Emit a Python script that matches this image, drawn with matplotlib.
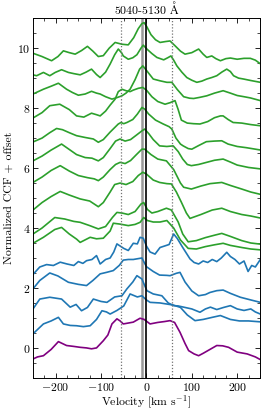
import matplotlib
matplotlib.use('Agg')
import matplotlib.pyplot as plt
from matplotlib.ticker import MultipleLocator

plt.rcParams['font.family'] = ['cmr10', 'DejaVu Serif']
plt.rcParams['mathtext.fontset'] = 'cm'
plt.rcParams['axes.formatter.use_mathtext'] = True
plt.rcParams['font.size'] = 8.5

# CCF curves (velocity in km/s, normalized CCF + offset), top to bottom
v_g1 = [-250, -230, -209, -195, -183, -170, -157, -143, -130, -118, -106, -95, -82, -69, -54, -40, -28, -18, -10, -5, 1, 10, 20, 30, 42, 52, 63, 75, 85, 100, 115, 125, 133, 144, 153, 163, 175, 185, 200, 215, 229, 240, 250]
y_g1 = [9.83, 9.72, 9.58, 9.72, 9.91, 9.85, 9.8, 9.92, 10.06, 9.9, 9.72, 9.75, 10.0, 10.19, 10.13, 10.11, 10.35, 10.65, 10.82, 10.85, 10.71, 10.45, 10.28, 10.19, 10.22, 10.24, 10.08, 9.9, 9.8, 9.85, 9.97, 9.8, 9.69, 9.74, 9.65, 9.58, 9.65, 9.67, 9.63, 9.66, 9.66, 9.6, 9.49]

v_g2 = [-250, -242, -227, -213, -201, -187, -172, -160, -146, -133, -121, -110, -102, -90, -80, -70, -62, -55, -51, -40, -30, -21, -12, -7, 1, 12, 23, 38, 47, 54, 60, 67, 78, 89, 100, 111, 122, 133, 144, 155, 166, 177, 185, 192, 203, 214, 230, 251]
y_g2 = [9.11, 9.08, 9.19, 9.08, 9.19, 9.28, 9.19, 9.15, 9.11, 9.2, 9.3, 9.12, 9.02, 9.2, 9.47, 9.78, 9.97, 9.85, 9.74, 9.63, 9.68, 9.78, 10.0, 10.1, 9.97, 9.82, 9.69, 9.61, 9.68, 9.74, 9.6, 9.41, 9.2, 9.02, 8.93, 8.86, 8.9, 8.97, 9.02, 9.08, 9.2, 9.3, 9.22, 9.08, 9.0, 8.97, 8.92, 8.86]

v_g3 = [-250, -227, -210, -194, -176, -163, -150, -135, -121, -110, -102, -90, -76, -65, -54, -45, -36, -25, -15, -8, 1, 15, 30, 45, 56, 68, 82, 95, 104, 118, 133, 150, 169, 185, 200, 215, 229, 251]
y_g3 = [8.47, 8.63, 8.73, 8.83, 8.63, 8.52, 8.43, 8.47, 8.56, 8.5, 8.47, 8.38, 8.3, 8.35, 8.41, 8.5, 8.63, 8.95, 9.3, 9.41, 9.24, 8.97, 8.91, 8.86, 8.86, 8.62, 8.38, 8.33, 8.32, 8.36, 8.41, 8.5, 8.58, 8.5, 8.42, 8.38, 8.34, 8.25]

v_g4 = [-250, -230, -213, -191, -170, -154, -138, -121, -110, -102, -90, -80, -69, -62, -54, -45, -36, -29, -18, -8, 0, 12, 25, 41, 52, 63, 70, 77, 90, 104, 118, 135, 150, 163, 169, 180, 191, 210, 230, 252]
y_g4 = [7.67, 7.85, 8.08, 8.13, 7.95, 7.74, 7.7, 7.83, 7.78, 7.74, 7.9, 8.1, 8.3, 8.55, 8.63, 8.58, 8.55, 8.6, 8.66, 8.69, 8.6, 8.38, 8.22, 8.13, 8.18, 8.25, 7.95, 7.6, 7.5, 7.48, 7.47, 7.55, 7.68, 7.74, 7.74, 7.62, 7.52, 7.5, 7.45, 7.41]

v_g5 = [-250, -230, -213, -198, -185, -170, -154, -135, -117, -106, -95, -80, -70, -62, -56, -50, -43, -30, -20, -10, -4, 5, 20, 37, 50, 56, 65, 75, 81, 92, 100, 115, 132, 150, 166, 180, 200, 220, 252]
y_g5 = [6.87, 7.0, 7.18, 7.32, 7.28, 7.18, 7.08, 7.02, 6.97, 6.86, 6.95, 7.2, 7.35, 7.47, 7.52, 7.48, 7.52, 7.62, 7.8, 8.02, 7.97, 7.8, 7.6, 7.47, 7.38, 7.3, 7.0, 6.8, 6.74, 6.65, 6.63, 6.75, 6.88, 6.9, 6.91, 6.8, 6.72, 6.68, 6.6]

v_g6 = [-250, -230, -210, -187, -170, -154, -135, -120, -106, -95, -80, -68, -58, -47, -35, -22, -10, -4, 5, 15, 29, 45, 59, 70, 80, 90, 99, 115, 135, 150, 169, 185, 200, 225, 252]
y_g6 = [6.24, 6.4, 6.6, 6.8, 6.62, 6.45, 6.35, 6.33, 6.24, 6.35, 6.65, 6.9, 6.97, 6.9, 6.95, 7.1, 7.24, 7.3, 7.15, 6.95, 6.74, 6.72, 6.74, 6.55, 6.3, 6.12, 6.08, 6.12, 6.2, 6.26, 6.3, 6.2, 6.1, 6.02, 5.97]

v_g7 = [-250, -230, -210, -190, -170, -150, -130, -115, -106, -95, -80, -68, -58, -47, -35, -22, -10, -4, 10, 25, 44, 60, 75, 82, 99, 120, 140, 166, 185, 210, 230, 252]
y_g7 = [5.52, 5.7, 5.92, 6.08, 5.9, 5.75, 5.68, 5.64, 5.58, 5.7, 5.95, 6.12, 6.19, 6.15, 6.25, 6.45, 6.63, 6.63, 6.45, 6.3, 6.24, 5.95, 5.5, 5.36, 5.3, 5.4, 5.48, 5.52, 5.42, 5.3, 5.2, 5.12]

v_g8 = [-250, -230, -210, -190, -170, -146, -125, -106, -95, -80, -70, -58, -45, -30, -18, -8, 0, 15, 29, 45, 55, 66, 77, 88, 96, 120, 145, 166, 185, 210, 230, 252]
y_g8 = [4.6, 4.85, 5.05, 5.22, 5.1, 4.97, 4.9, 4.71, 4.85, 5.2, 5.45, 5.5, 5.45, 5.55, 5.75, 5.86, 5.8, 5.6, 5.52, 5.48, 5.47, 5.2, 4.86, 4.5, 4.32, 4.45, 4.6, 4.66, 4.55, 4.45, 4.4, 4.33]

v_g9 = [-250, -230, -202, -180, -160, -146, -125, -106, -90, -75, -65, -54, -40, -25, -12, -6, 2, 12, 25, 44, 55, 70, 80, 92, 110, 130, 150, 166, 185, 210, 230, 252]
y_g9 = [3.8, 4.0, 4.35, 4.3, 4.22, 4.19, 4.08, 3.97, 4.05, 4.35, 4.52, 4.5, 4.45, 4.55, 4.8, 4.85, 4.62, 4.5, 4.55, 4.66, 4.6, 4.2, 3.8, 3.54, 3.58, 3.68, 3.76, 3.82, 3.72, 3.58, 3.5, 3.46]

v_g10 = [-250, -227, -202, -187, -170, -154, -146, -124, -110, -95, -80, -73, -58, -40, -25, -14, -6, 2, 15, 30, 45, 60, 75, 92, 110, 130, 150, 169, 185, 210, 230, 252]
y_g10 = [3.49, 3.69, 3.95, 4.02, 3.8, 3.63, 3.52, 3.69, 3.64, 3.66, 3.9, 4.16, 4.13, 4.08, 4.12, 4.19, 4.35, 4.25, 4.2, 4.2, 4.25, 4.0, 3.6, 3.32, 3.3, 3.38, 3.44, 3.49, 3.42, 3.35, 3.3, 3.27]

v_b1 = [-250, -235, -220, -205, -190, -175, -160, -150, -140, -132, -120, -110, -102, -90, -80, -72, -65, -58, -50, -40, -29, -20, -14, -7, 0, 8, 19, 30, 40, 50, 60, 68, 80, 96, 105, 115, 125, 135, 145, 155, 165, 177, 185, 195, 205, 215, 224, 232, 240, 251]
y_b1 = [2.45, 2.7, 2.78, 2.75, 2.86, 2.8, 2.75, 2.88, 2.82, 2.91, 2.95, 3.08, 2.8, 2.95, 3.0, 3.2, 3.47, 3.4, 3.32, 3.25, 3.49, 3.47, 3.69, 3.66, 3.4, 3.2, 3.13, 3.35, 3.4, 3.45, 3.8, 3.65, 3.35, 2.97, 2.85, 2.8, 2.9, 2.85, 2.95, 2.88, 3.0, 3.19, 3.05, 2.95, 2.8, 2.9, 2.55, 2.75, 2.7, 2.95]

v_b2 = [-250, -235, -213, -195, -172, -150, -132, -118, -102, -88, -73, -60, -51, -40, -29, -10, 0, 15, 29, 45, 52, 66, 74, 85, 100, 115, 130, 140, 155, 169, 185, 207, 230, 251]
y_b2 = [1.97, 2.25, 2.5, 2.4, 2.19, 2.12, 2.08, 2.25, 2.47, 2.52, 2.58, 2.75, 2.93, 2.95, 2.95, 3.0, 2.71, 2.55, 2.43, 2.42, 2.41, 2.49, 2.52, 2.2, 1.9, 1.74, 1.78, 1.85, 1.91, 1.93, 1.82, 1.69, 1.6, 1.52]

v_b3 = [-250, -235, -213, -187, -168, -155, -143, -130, -117, -100, -87, -70, -54, -43, -30, -21, -10, 1, 15, 34, 48, 60, 70, 82, 100, 118, 130, 141, 155, 170, 185, 200, 215, 230, 240, 251]
y_b3 = [1.3, 1.63, 1.69, 1.63, 1.36, 1.45, 1.24, 1.35, 1.63, 1.55, 1.52, 1.7, 1.74, 1.97, 2.2, 2.41, 2.3, 1.91, 1.8, 1.74, 1.5, 1.41, 1.4, 1.36, 1.3, 1.19, 1.3, 1.36, 1.28, 1.35, 1.41, 1.3, 1.25, 1.3, 1.2, 1.13]

v_b4 = [-250, -227, -210, -194, -183, -168, -154, -139, -124, -110, -98, -88, -80, -65, -50, -36, -20, -10, 0, 8, 30, 59, 75, 90, 107, 125, 145, 163, 185, 205, 225, 251]
y_b4 = [0.47, 0.8, 0.9, 1.02, 0.8, 0.75, 0.74, 0.71, 0.74, 0.95, 1.24, 1.2, 1.13, 1.25, 1.4, 1.8, 1.7, 1.74, 1.6, 1.52, 1.5, 1.43, 1.35, 1.1, 0.91, 0.95, 1.02, 1.08, 0.95, 0.9, 0.9, 0.87]

v_p = [-250, -240, -227, -210, -194, -176, -160, -146, -132, -121, -110, -95, -85, -76, -65, -58, -51, -40, -29, -14, -5, 8, 25, 40, 52, 62, 74, 85, 93, 105, 115, 125, 140, 155, 168, 181, 200, 222, 240, 251]
y_p = [-0.37, -0.3, -0.26, -0.05, 0.21, 0.08, 0.05, 0.02, 0.0, -0.03, 0.0, 0.24, 0.43, 0.8, 0.97, 0.9, 0.8, 0.83, 0.86, 0.99, 0.95, 0.8, 0.85, 0.88, 0.91, 0.85, 0.52, 0.15, -0.09, -0.2, -0.26, -0.18, -0.05, 0.08, 0.07, 0.02, -0.14, -0.2, -0.3, -0.39]

green = [(v_g1, y_g1), (v_g2, y_g2), (v_g3, y_g3), (v_g4, y_g4), (v_g5, y_g5),
         (v_g6, y_g6), (v_g7, y_g7), (v_g8, y_g8), (v_g9, y_g9), (v_g10, y_g10)]
blue = [(v_b1, y_b1), (v_b2, y_b2), (v_b3, y_b3), (v_b4, y_b4)]

v_sys = -9      # gray line
v_dot = 56      # dotted lines at +/- this

fig = plt.figure(figsize=(2.66, 4.13), dpi=100)
ax = fig.add_axes([0.124, 0.085, 0.853, 0.871])

for v, y in green:
    ax.plot(v, y, color='#2ca02c', lw=1.2, solid_joinstyle='round')
for v, y in blue:
    ax.plot(v, y, color='#1f77b4', lw=1.2, solid_joinstyle='round')
ax.plot(v_p, y_p, color='purple', lw=1.2, solid_joinstyle='round')

ax.axvline(v_sys, color='0.6', lw=1.8, zorder=0)
ax.axvline(0, color='k', lw=1.2)
ax.axvline(-v_dot, color='0.45', lw=0.9, ls=(0, (1, 1.5)))
ax.axvline(v_dot, color='0.45', lw=0.9, ls=(0, (1, 1.5)))

ax.set_xlim(-250, 250)
ax.set_ylim(-1, 11)
ax.xaxis.set_major_locator(MultipleLocator(100))
ax.xaxis.set_minor_locator(MultipleLocator(25))
ax.yaxis.set_major_locator(MultipleLocator(2))
ax.yaxis.set_minor_locator(MultipleLocator(0.5))
ax.tick_params(which='both', direction='in', top=True, right=True, pad=2)
ax.tick_params(which='major', length=3.5, width=0.6)
ax.tick_params(which='minor', length=2, width=0.5)
for s in ax.spines.values():
    s.set_linewidth(0.7)

ax.set_xlabel(r'Velocity [km s$^{-1}$]', labelpad=1)
ax.set_ylabel('Normalized CCF + offset', labelpad=2)
ax.set_title(r'5040-5130 $\mathrm{\AA}$', fontsize=8.5, pad=3)

plt.savefig('out.png', dpi=100)
